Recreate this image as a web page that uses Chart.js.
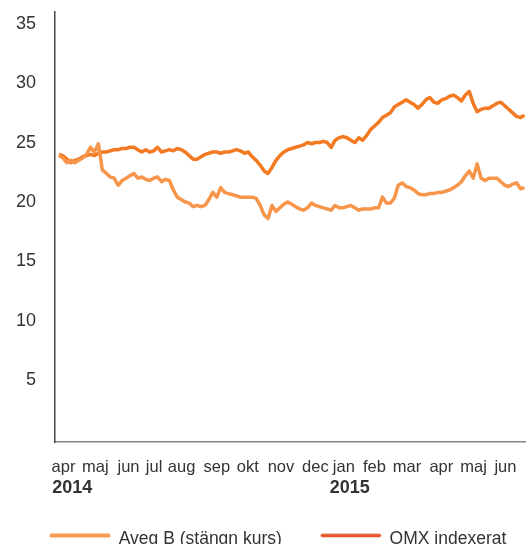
<!DOCTYPE html>
<html>
<head>
<meta charset="utf-8">
<script src="https://cdn.jsdelivr.net/npm/chart.js@4"></script>
<style>
  html, body { margin: 0; padding: 0; background: #fff; overflow: hidden; }
</style>
</head>
<body>
<canvas id="kursChart" width="560" height="558" style="width:560px;height:558px"></canvas>
<script>
// kursutveckling Aveq B mot OMX, apr 2014 - jun 2015
const months = ["apr", "maj", "jun", "jul", "aug", "sep", "okt", "nov", "dec", "jan", "feb", "mar", "apr", "maj", "jun"];
// var månadsnamnen står på x-axeln (i månader från 1 april 2014)
const monthTickAt = [0.27, 1.28, 2.33, 3.14, 4.01, 5.13, 6.11, 7.16, 8.25, 9.15, 10.12, 11.15, 12.24, 13.26, 14.27];
const years = ["2014", "2015"];
const yearTickAt = [0.55, 9.34];
const yTicks = [5, 10, 15, 20, 25, 30, 35];

// ungefär två värden i veckan
const aveq = [
  23.9, 23.7, 23.3, 23.5, 23.3, 23.5, 23.7, 24.0, 24.6, 24.2,
  24.9, 22.7, 22.4, 22.1, 22.0, 21.4, 21.8, 22.0, 22.2, 22.4,
  22.0, 22.1, 21.9, 21.8, 22.0, 22.1, 21.7, 21.9, 21.8, 21.0,
  20.4, 20.2, 20.0, 19.9, 19.6, 19.7, 19.6, 19.7, 20.2, 20.8,
  20.4, 21.2, 20.8, 20.7, 20.6, 20.5, 20.4, 20.4, 20.4, 20.4,
  20.3, 19.7, 18.9, 18.6, 19.7, 19.2, 19.5, 19.8, 20.0, 19.8,
  19.6, 19.4, 19.3, 19.5, 19.9, 19.7, 19.6, 19.5, 19.4, 19.3,
  19.7, 19.5, 19.5, 19.6, 19.7, 19.5, 19.3, 19.4, 19.4, 19.4,
  19.5, 19.5, 20.4, 19.9, 19.9, 20.3, 21.4, 21.6, 21.3, 21.2,
  21.0, 20.7, 20.6, 20.6, 20.7, 20.7, 20.8, 20.8, 20.9, 21.0,
  21.2, 21.4, 21.7, 22.2, 22.6, 22.0, 23.2, 22.0, 21.8, 22.0,
  22.0, 22.0, 21.7, 21.4, 21.3, 21.5, 21.6, 21.1, 21.2
];
const omx = [
  24.0, 23.9, 23.6, 23.3, 23.5, 23.6, 23.8, 23.9, 24.0, 23.9,
  24.1, 24.2, 24.2, 24.3, 24.4, 24.4, 24.5, 24.5, 24.6, 24.6,
  24.4, 24.2, 24.4, 24.2, 24.3, 24.6, 24.2, 24.3, 24.4, 24.3,
  24.5, 24.4, 24.2, 23.9, 23.6, 23.6, 23.8, 24.0, 24.1, 24.2,
  24.2, 24.1, 24.2, 24.2, 24.3, 24.4, 24.3, 24.1, 24.2, 23.8,
  23.5, 23.1, 22.6, 22.4, 22.9, 23.5, 23.9, 24.2, 24.4, 24.5,
  24.6, 24.7, 24.8, 25.0, 24.9, 25.0, 25.0, 25.1, 25.0, 24.6,
  25.2, 25.4, 25.5, 25.4, 25.2, 25.0, 25.4, 25.2, 25.6, 26.1,
  26.4, 26.7, 27.1, 27.3, 27.5, 28.0, 28.2, 28.4, 28.6, 28.4,
  28.2, 27.9, 28.2, 28.6, 28.8, 28.4, 28.3, 28.6, 28.7, 28.9,
  29.0, 28.8, 28.5, 29.0, 29.3, 28.3, 27.6, 27.8, 27.9, 27.9,
  28.1, 28.3, 28.4, 28.1, 27.8, 27.5, 27.2, 27.1, 27.3
];

const step = 0.125; // månader mellan två värden
const toPoints = (arr) => arr.map((v, i) => ({ x: (i + 1) * step, y: v }));

// legendlinje, lite ovanför textens mitt som i originalet
function legendLine(color, width) {
  const c = document.createElement("canvas");
  c.width = 62;
  c.height = 18;
  const g = c.getContext("2d");
  g.strokeStyle = color;
  g.lineWidth = width;
  g.lineCap = "round";
  g.beginPath();
  g.moveTo(2.5, 5.2);
  g.lineTo(59.5, 5.2);
  g.stroke();
  return c;
}

const colAveq = "#f7954a";
const colOmx = "#f37a22";

Chart.defaults.font.family = "'Liberation Sans', Arial, sans-serif";
Chart.defaults.color = "#333333";

const ctx = document.getElementById("kursChart").getContext("2d");
new Chart(ctx, {
  type: "line",
  data: {
    datasets: [
      {
        label: "Aveq B (stängn kurs)",
        data: toPoints(aveq),
        borderColor: colAveq,
        backgroundColor: colAveq,
        borderWidth: 3.5,
        borderJoinStyle: "round",
        pointRadius: 0,
        pointStyle: legendLine("#f79a50", 4),
        tension: 0,
      },
      {
        label: "OMX indexerat",
        data: toPoints(omx),
        borderColor: colOmx,
        backgroundColor: colOmx,
        borderWidth: 3.5,
        borderJoinStyle: "round",
        pointRadius: 0,
        pointStyle: legendLine("#e8552a", 3.5),
        tension: 0,
      },
    ],
  },
  options: {
    responsive: false,
    animation: false,
    layout: { padding: { left: 11, top: 12, right: 0, bottom: 0 } },
    plugins: {
      tooltip: { enabled: false },
      legend: {
        position: "bottom",
        align: "start",
        labels: {
          usePointStyle: true,
          pointStyleWidth: 60,
          padding: 39,
          color: "#333333",
          font: { size: 17.5 },
        },
      },
    },
    scales: {
      x: {
        type: "linear",
        min: 0,
        max: 16,
        weight: 0,
        grid: { display: false, drawTicks: false },
        border: { color: "#858585", width: 1.5 },
        afterBuildTicks: (s) => {
          s.ticks = monthTickAt.map((v) => ({ value: v }));
        },
        afterFit: (s) => {
          s.height = 26;
          s.paddingLeft = 0;
          s.paddingRight = 0;
        },
        ticks: {
          autoSkip: false,
          maxRotation: 0,
          mirror: true,
          padding: -35,
          font: { size: 16.5 },
          callback: (v, i) => months[i],
        },
      },
      x2: {
        type: "linear",
        position: "bottom",
        min: 0,
        max: 16,
        weight: 1,
        grid: { display: false, drawTicks: false },
        border: { display: false },
        afterBuildTicks: (s) => {
          s.ticks = yearTickAt.map((v) => ({ value: v }));
        },
        afterFit: (s) => {
          s.height = 23.3;
          s.paddingLeft = 0;
          s.paddingRight = 0;
        },
        ticks: {
          autoSkip: false,
          maxRotation: 0,
          mirror: true,
          padding: -31,
          font: { size: 18, weight: "bold" },
          callback: (v, i) => years[i],
        },
      },
      y: {
        min: -0.25,
        max: 36,
        grid: { display: false, drawTicks: false },
        border: { color: "#444444", width: 1.5 },
        afterBuildTicks: (s) => {
          s.ticks = yTicks.map((v) => ({ value: v }));
        },
        afterFit: (s) => {
          s.width = 44;
          s.paddingTop = 0;
          s.paddingBottom = 0;
        },
        ticks: {
          padding: 19,
          font: { size: 18 },
        },
      },
    },
  },
});
</script>
</body>
</html>
